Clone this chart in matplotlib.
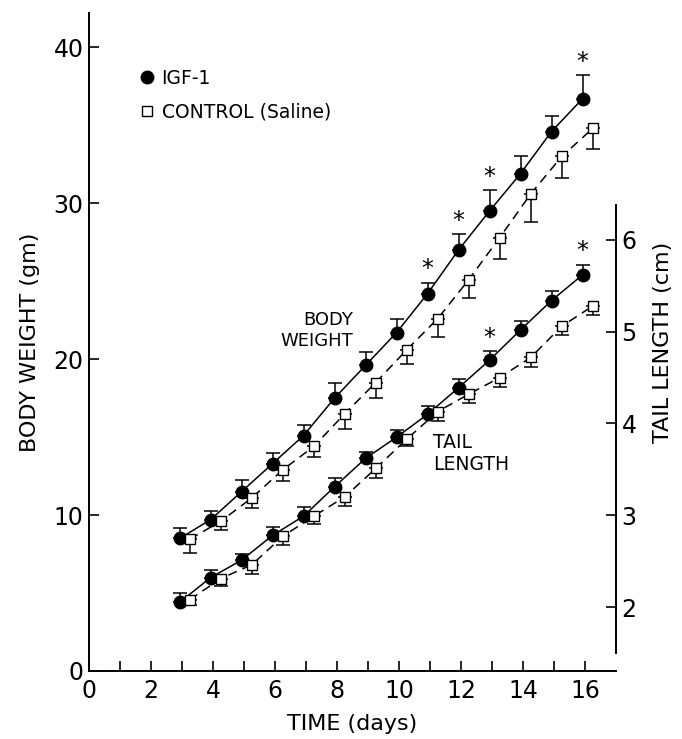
import numpy as np
import matplotlib.pyplot as plt
from matplotlib.lines import Line2D

# days of measurement
days = np.arange(3, 17)

# body weight (gm)
bw_igf = [8.5, 9.7, 11.5, 13.3, 15.1, 17.5, 19.6, 21.7, 24.2, 27.0, 29.5, 31.9, 34.6, 36.7]
bw_igf_err = [0.7, 0.55, 0.75, 0.7, 0.65, 0.95, 0.85, 0.9, 0.7, 1.0, 1.35, 1.1, 1.0, 1.5]
bw_ctl = [8.45, 9.6, 11.1, 12.9, 14.4, 16.5, 18.5, 20.6, 22.6, 25.1, 27.8, 30.6, 33.0, 34.8]
bw_ctl_err = [0.9, 0.55, 0.65, 0.7, 0.65, 1.0, 1.0, 0.9, 1.15, 1.2, 1.35, 1.8, 1.4, 1.35]

# tail length (cm)
tl_igf = [2.05, 2.32, 2.51, 2.78, 2.99, 3.31, 3.62, 3.85, 4.10, 4.39, 4.69, 5.02, 5.34, 5.62]
tl_igf_err = [0.1, 0.08, 0.07, 0.09, 0.1, 0.1, 0.07, 0.08, 0.09, 0.1, 0.1, 0.1, 0.1, 0.11]
tl_ctl = [2.08, 2.31, 2.46, 2.77, 2.99, 3.20, 3.51, 3.83, 4.13, 4.32, 4.50, 4.72, 5.06, 5.28]
tl_ctl_err = [0.06, 0.08, 0.1, 0.09, 0.08, 0.1, 0.1, 0.08, 0.1, 0.1, 0.1, 0.1, 0.1, 0.1]

# days with significant difference
bw_sig = [11, 12, 13, 16]
tl_sig = [13, 16]

plt.rcParams['font.family'] = 'DejaVu Sans'

fig = plt.figure(figsize=(6.82, 7.39), dpi=100)
ax = fig.add_axes([89 / 682, 68 / 739, 527 / 682, 658 / 739])
ax2 = ax.twinx()

x_igf = days - 0.08
x_ctl = days + 0.25


def draw_series(a, x, y, err, filled, up):
    yerr = [np.zeros(len(err)), err] if up else [err, np.zeros(len(err))]
    a.errorbar(x, y, yerr=yerr, fmt='none', ecolor='black', elinewidth=1.1,
               capsize=5, capthick=1.1, zorder=2)
    if filled:
        a.plot(x, y, '-', color='black', lw=1.1, zorder=3)
        a.plot(x, y, 'o', ms=9, mfc='black', mec='black', zorder=4)
    else:
        a.plot(x, y, '--', color='black', lw=1.1, dashes=(6, 4), zorder=3)
        a.plot(x, y, 's', ms=7.5, mfc='white', mec='black', mew=1.0, zorder=4)


draw_series(ax, x_igf, bw_igf, bw_igf_err, True, True)
draw_series(ax, x_ctl, bw_ctl, bw_ctl_err, False, False)
draw_series(ax2, x_igf, tl_igf, tl_igf_err, True, True)
draw_series(ax2, x_ctl, tl_ctl, tl_ctl_err, False, False)

for d in bw_sig:
    i = list(days).index(d)
    ax.annotate('*', (x_igf[i], bw_igf[i] + bw_igf_err[i]), xytext=(0, 1),
                textcoords='offset points', ha='center', va='bottom', fontsize=17)
for d in tl_sig:
    i = list(days).index(d)
    ax2.annotate('*', (x_igf[i], tl_igf[i] + tl_igf_err[i]), xytext=(0, 1),
                 textcoords='offset points', ha='center', va='bottom', fontsize=17)

# axes
ax.set_xlim(0, 17)
ax.set_ylim(0, 42.2)
ax.spines['top'].set_visible(False)
ax.spines['right'].set_visible(False)
ax.spines['left'].set_linewidth(1.4)
ax.spines['bottom'].set_linewidth(1.4)
ax.set_xticks(range(0, 17))
ax.set_xticklabels([str(i) if i % 2 == 0 else '' for i in range(0, 17)])
ax.set_yticks([0, 10, 20, 30, 40])
ax.tick_params(axis='both', direction='in', length=7, width=1.2, labelsize=17, pad=6)
ax.tick_params(axis='y', pad=4)

ax2.set_ylim(1.3025, 8.474)
for s in ['top', 'left', 'bottom']:
    ax2.spines[s].set_visible(False)
ax2.spines['right'].set_bounds(1.5, 6.38)
ax2.spines['right'].set_linewidth(1.4)
ax2.set_yticks([2, 3, 4, 5, 6])
ax2.tick_params(axis='y', direction='in', length=7, width=1.2, labelsize=17, pad=4)

ax.set_xlabel('TIME (days)', fontsize=16, labelpad=8)
ax.set_ylabel('BODY WEIGHT (gm)', fontsize=16, labelpad=10)
ax2.set_ylabel('TAIL LENGTH (cm)', fontsize=16, labelpad=12)

# curve labels
fig.text(353 / 682, 1 - 320 / 739, 'BODY', fontsize=13, ha='right', va='center')
fig.text(353 / 682, 1 - 341 / 739, 'WEIGHT', fontsize=13, ha='right', va='center')
fig.text(433 / 682, 1 - 443 / 739, 'TAIL', fontsize=13.5, ha='left', va='center')
fig.text(433 / 682, 1 - 465 / 739, 'LENGTH', fontsize=13.5, ha='left', va='center')

handles = [Line2D([], [], ls='none', marker='o', ms=9, mfc='black', mec='black'),
           Line2D([], [], ls='none', marker='s', ms=7, mfc='white', mec='black', mew=1.0)]
ax.legend(handles, ['IGF-1', 'CONTROL (Saline)'], loc='upper left',
          bbox_to_anchor=(139 / 682, 1 - 69 / 739), bbox_transform=fig.transFigure,
          frameon=False, fontsize=13.5, handlelength=0.8, handletextpad=0.4,
          labelspacing=0.8, borderpad=0, borderaxespad=0)

fig.savefig('out.png', dpi=100)
